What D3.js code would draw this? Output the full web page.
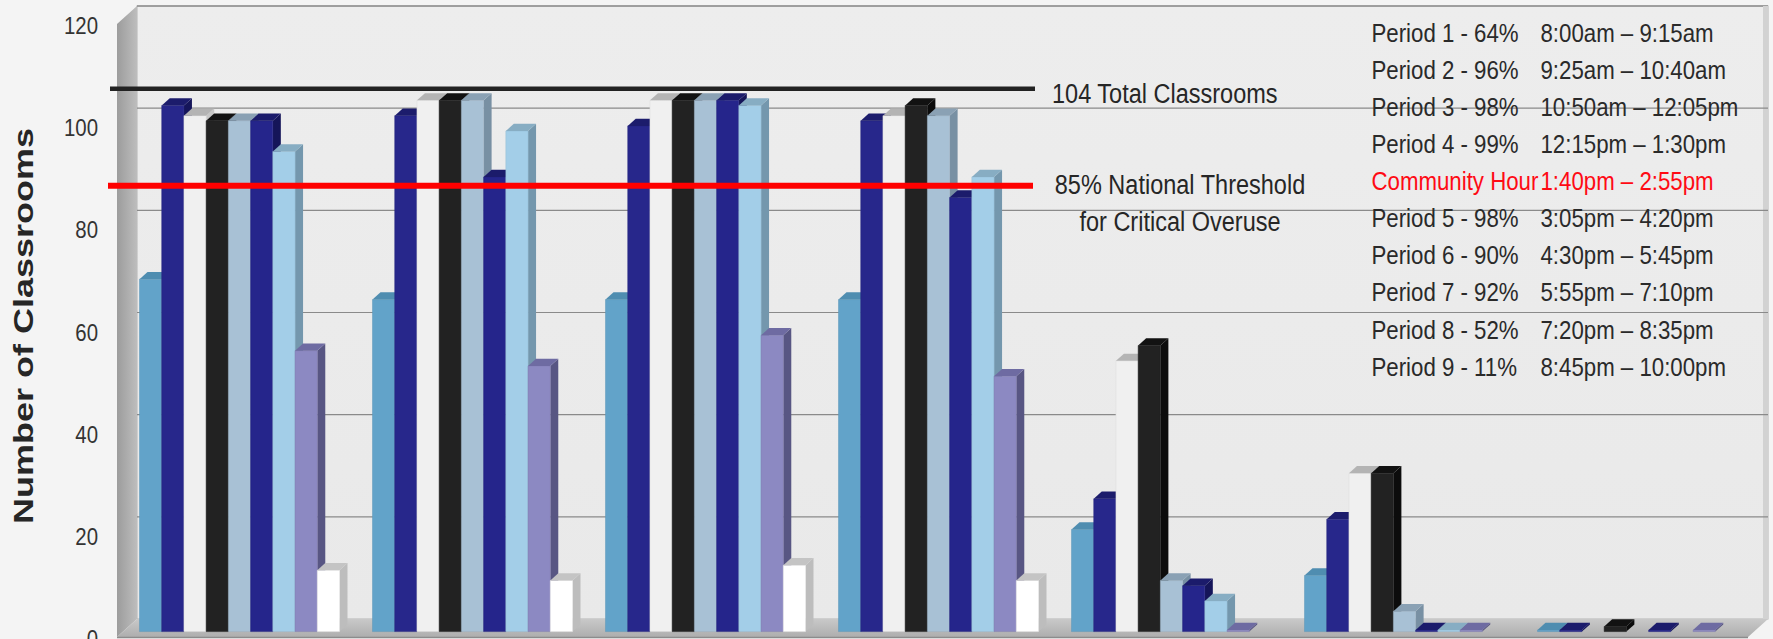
<!DOCTYPE html>
<html>
<head>
<meta charset="utf-8">
<script src="https://cdn.jsdelivr.net/npm/d3@7"></script>
<style>
  html, body { margin: 0; padding: 0; background: #f4f4f4; }
  svg { display: block; }
  text { font-family: "Liberation Sans", Arial, sans-serif; }
</style>
</head>
<body>
<svg id="chart" width="1773" height="639"></svg>
<script>
// ---- data ----------------------------------------------------------------
const groups  = ["Mon", "Tue", "Wed", "Thu", "Fri", "Sat", "Sun"];
const periods = ["Period 1", "Period 2", "Period 3", "Period 4", "Period 5",
                 "Period 6", "Period 7", "Period 8", "Period 9"];

// classrooms in use, one value per group
const period1 = [69, 65, 65, 65, 20, 11, 0.3];
const period2 = [103, 101, 99, 100, 26, 22, 0.3];
const period3 = [101, 104, 104, 101, 53, 31, 0];
const period4 = [100, 104, 104, 103, 56, 31, 1];
const period5 = [100, 104, 104, 101, 10, 4, 0];
const period6 = [100, 89, 104, 85, 9, 0.3, 0.3];
const period7 = [94, 98, 103, 89, 6, 0.3, 0];
const period8 = [55, 52, 58, 50, 0.3, 0.3, 0.3];
const period9 = [12, 10, 13, 10, 0, 0, 0];
const seriesValues = [period1, period2, period3, period4, period5,
                      period6, period7, period8, period9];

const yTicks = [0, 20, 40, 60, 80, 100, 120];

const totalClassrooms = 104;
const thresholdLevel  = 85;
const totalLabel      = "104 Total Classrooms";
const thresholdLabel  = ["85% National Threshold", "for Critical Overuse"];

const legendNames = ["Period 1 - 64%", "Period 2 - 96%", "Period 3 - 98%", "Period 4 - 99%",
                     "Community Hour", "Period 5 - 98%", "Period 6 - 90%", "Period 7 - 92%",
                     "Period 8 - 52%", "Period 9 - 11%"];
const legendTimes = ["8:00am – 9:15am", "9:25am – 10:40am", "10:50am – 12:05pm", "12:15pm – 1:30pm",
                     "1:40pm – 2:55pm", "3:05pm – 4:20pm", "4:30pm – 5:45pm", "5:55pm – 7:10pm",
                     "7:20pm – 8:35pm", "8:45pm – 10:00pm"];
const legendHighlight = [false, false, false, false, true, false, false, false, false, false];

// front / top / side shades for each period's columns
const barColors = [
  { front: "#62a3c9", top: "#4f8db0", side: "#3f7797" },
  { front: "#27278b", top: "#1c1c6c", side: "#15155a" },
  { front: "#f0f0f0", top: "#b4b4b4", side: "#c6c6c6" },
  { front: "#222222", top: "#121212", side: "#0c0c0c" },
  { front: "#a8c1d5", top: "#8aa1b4", side: "#7890a3" },
  { front: "#25258b", top: "#1b1b6b", side: "#151559" },
  { front: "#a3cee8", top: "#87adc3", side: "#7497ad" },
  { front: "#8c89c2", top: "#6e6ba2", side: "#585683" },
  { front: "#ffffff", top: "#c4c4c4", side: "#bdbdbd" }
];

// ---- layout --------------------------------------------------------------
const svg = d3.select("#chart");
const W = 1773, H = 639;
const plotLeft = 117, plotRight = 1748;
const DX = 20, DY = 18;          // projection of the full depth of the box
const barZ0 = 0.3, barZ1 = 0.7;  // depth slice occupied by the columns

const y = d3.scaleLinear().domain([0, 120]).range([637, 24]);
const x = d3.scaleBand().domain(groups).range([plotLeft, plotRight])
  .paddingInner(0.1416).paddingOuter(0.0708);
const xInner = d3.scaleBand().domain(periods).range([0, x.bandwidth()]);

// screen position of a point at horizontal position px, value v and depth z
function P(px, v, z) { return [px + z * DX, y(v) - z * DY]; }
function poly(pts) { return pts.map(p => p.join(",")).join(" "); }

const defs = svg.append("defs");
const wallGrad = defs.append("linearGradient").attr("id", "wallGrad")
  .attr("x1", 0).attr("y1", 0).attr("x2", 0).attr("y2", 1);
wallGrad.append("stop").attr("offset", "0%").attr("stop-color", "#ededed");
wallGrad.append("stop").attr("offset", "100%").attr("stop-color", "#e9e9e9");
const sideGrad = defs.append("linearGradient").attr("id", "sideGrad")
  .attr("x1", 0).attr("y1", 0).attr("x2", 1).attr("y2", 0);
sideGrad.append("stop").attr("offset", "0%").attr("stop-color", "#9c9c9c");
sideGrad.append("stop").attr("offset", "100%").attr("stop-color", "#bdbdbd");
const floorGrad = defs.append("linearGradient").attr("id", "floorGrad")
  .attr("x1", 0).attr("y1", 0).attr("x2", 0).attr("y2", 1);
floorGrad.append("stop").attr("offset", "0%").attr("stop-color", "#c9c9c9");
floorGrad.append("stop").attr("offset", "100%").attr("stop-color", "#aeaeae");

svg.append("rect").attr("width", W).attr("height", H).attr("fill", "#f4f4f4");

// back wall
const bwTL = P(plotLeft, 120, 1), bwBR = P(plotRight, 0, 1);
svg.append("rect")
  .attr("x", bwTL[0]).attr("y", bwTL[1])
  .attr("width", bwBR[0] - bwTL[0]).attr("height", bwBR[1] - bwTL[1])
  .attr("fill", "url(#wallGrad)")
  .attr("stroke", "#b4b4b4").attr("stroke-width", 1);
svg.append("line")
  .attr("x1", bwTL[0]).attr("x2", bwBR[0]).attr("y1", bwTL[1]).attr("y2", bwTL[1])
  .attr("stroke", "#8e8e8e").attr("stroke-width", 1.5);
svg.append("rect")
  .attr("x", bwBR[0] - 5).attr("y", bwTL[1]).attr("width", 5).attr("height", bwBR[1] - bwTL[1])
  .attr("fill", "#d2d2d2");

// gridlines on the back wall
svg.append("g").selectAll("line")
  .data(yTicks.filter(t => t > 0 && t < 120))
  .join("line")
  .attr("x1", d => P(plotLeft, d, 1)[0]).attr("x2", d => P(plotRight, d, 1)[0])
  .attr("y1", d => P(plotLeft, d, 1)[1]).attr("y2", d => P(plotLeft, d, 1)[1])
  .attr("stroke", "#8a8a8a").attr("stroke-width", 1.2);

// left side wall
svg.append("polygon")
  .attr("points", poly([P(plotLeft, 0, 0), P(plotLeft, 120, 0), P(plotLeft, 120, 1), P(plotLeft, 0, 1)]))
  .attr("fill", "url(#sideGrad)");

// floor
svg.append("polygon")
  .attr("points", poly([P(plotLeft, 0, 0), P(plotRight, 0, 0), P(plotRight, 0, 1), P(plotLeft, 0, 1)]))
  .attr("fill", "url(#floorGrad)");
svg.append("line")
  .attr("x1", P(plotLeft, 0, 0)[0]).attr("x2", P(plotRight, 0, 0)[0])
  .attr("y1", y(0) + 0.5).attr("y2", y(0) + 0.5)
  .attr("stroke", "#8c8c8c").attr("stroke-width", 1.5);

// ---- columns -------------------------------------------------------------
const bars = [];
groups.forEach((g, gi) => {
  periods.forEach((p, pi) => {
    bars.push({ group: g, period: p, pi, value: seriesValues[pi][gi] });
  });
});

const barG = svg.append("g");
const bw = xInner.bandwidth();
bars.filter(d => d.value > 0).forEach(d => {
  const x0 = x(d.group) + xInner(d.period);
  const x1 = x0 + bw;
  const c = barColors[d.pi];
  const g = barG.append("g").datum(d);
  g.append("polygon")
    .attr("points", poly([P(x1, 0, barZ0), P(x1, d.value, barZ0), P(x1, d.value, barZ1), P(x1, 0, barZ1)]))
    .attr("fill", c.side);
  g.append("polygon")
    .attr("points", poly([P(x0, 0, barZ0), P(x0, d.value, barZ0), P(x1, d.value, barZ0), P(x1, 0, barZ0)]))
    .attr("fill", c.front)
    .attr("stroke", d3.color(c.front).darker(0.25)).attr("stroke-width", 0.5);
  g.append("polygon")
    .attr("points", poly([P(x0, d.value, barZ0), P(x1, d.value, barZ0), P(x1, d.value, barZ1), P(x0, d.value, barZ1)]))
    .attr("fill", c.top);
});

// ---- helper for the condensed lettering ----------------------------------
function label(parent, px, py, str, o) {
  const g = parent.append("g")
    .attr("transform", `translate(${px},${py}) scale(${o.sx},1)` + (o.rotate ? ` rotate(${o.rotate})` : ""));
  return g.append("text")
    .attr("text-anchor", o.anchor || "start")
    .attr("font-size", o.size)
    .attr("font-weight", o.weight || "normal")
    .attr("fill", o.fill || "#262626")
    .text(str);
}

// ---- y axis --------------------------------------------------------------
const axisG = svg.append("g")
  .attr("transform", `translate(${plotLeft},0)`)
  .call(d3.axisLeft(y).tickValues(yTicks).tickSize(0).tickFormat(d3.format("d")));
axisG.select(".domain").remove();
axisG.selectAll("text")
  .attr("x", 0).attr("dy", "0.36em")
  .attr("transform", "translate(-19,1) scale(0.85,1)")
  .attr("font-size", 24)
  .attr("font-family", "Liberation Sans, Arial, sans-serif")
  .attr("fill", "#333");

label(svg, 33, 326, "Number of Classrooms",
  { sx: 0.78, rotate: -90, anchor: "middle", size: 36, weight: "bold", fill: "#262626" });

// ---- reference lines -----------------------------------------------------
const lineZ = 0.95;
const lineStart = plotLeft - 7;
const totalLabelX = 1052;
const thresholdLabelX = 1180;

svg.append("line")
  .attr("x1", lineStart).attr("x2", totalLabelX - 17)
  .attr("y1", P(0, totalClassrooms, lineZ)[1]).attr("y2", P(0, totalClassrooms, lineZ)[1])
  .attr("stroke", "#222").attr("stroke-width", 4.5);
svg.append("line")
  .attr("x1", lineStart - 2).attr("x2", totalLabelX - 19)
  .attr("y1", P(0, thresholdLevel, lineZ)[1]).attr("y2", P(0, thresholdLevel, lineZ)[1])
  .attr("stroke", "#ff0000").attr("stroke-width", 6);

label(svg, totalLabelX, P(0, totalClassrooms, lineZ)[1] + 14, totalLabel,
  { sx: 0.84, size: 28 });
thresholdLabel.forEach((t, i) => {
  label(svg, thresholdLabelX, P(0, thresholdLevel, lineZ)[1] + 8 + i * 37, t,
    { sx: 0.84, anchor: "middle", size: 28 });
});

// ---- legend --------------------------------------------------------------
const legendY = d3.scaleLinear().domain([0, legendNames.length - 1]).range([41.7, 375.6]);
const legendG = svg.append("g");
legendNames.forEach((n, i) => {
  const col = legendHighlight[i] ? "#ff0a14" : "#2a2a2a";
  label(legendG, 1371.5, legendY(i), n, { sx: 0.89, size: 25, fill: col });
  label(legendG, 1540.5, legendY(i), legendTimes[i], { sx: 0.89, size: 25, fill: col });
});
</script>
</body>
</html>
